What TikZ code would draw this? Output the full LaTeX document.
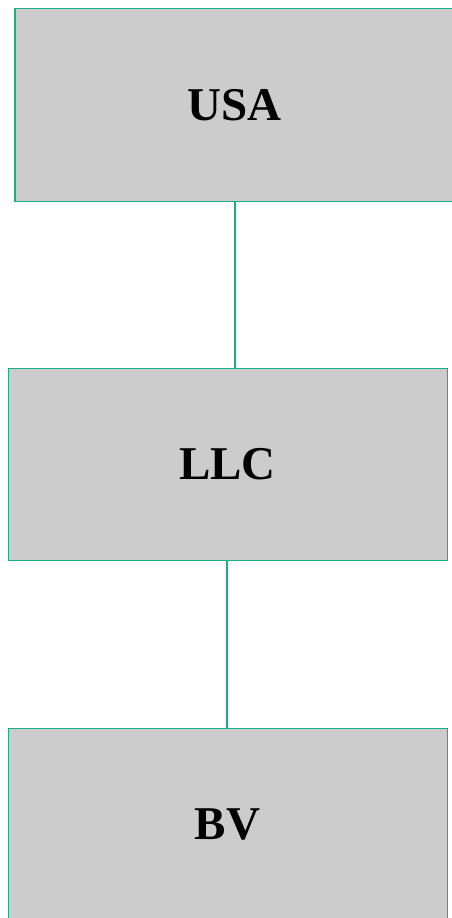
\documentclass[tikz,border=0pt]{standalone}
\usepackage{fontspec}
\setmainfont{Liberation Serif}
\definecolor{edgeteal}{RGB}{26,176,134}
\definecolor{boxgray}{RGB}{204,204,204}
\newcommand{\boxtext}[1]{\raisebox{-2pt}{#1}}
\begin{document}
\begin{tikzpicture}[x=1pt,y=-1pt,
  orgbox/.style={draw=edgeteal,fill=boxgray,text=black,line width=1pt,minimum width=439pt,minimum height=192pt,inner sep=0pt,font=\fontsize{47}{50}\selectfont\bfseries},
  link/.style={draw=edgeteal,line width=1.3pt}]
\useasboundingbox (0,0) rectangle (452,918);
\node[orgbox] (llc) at (227.5,464) {\boxtext{LLC}};
\node[orgbox] (bv) at (227.5,824) {\boxtext{BV}};
\node[orgbox,draw=none,minimum width=438pt] (usa) at (234.5,105) {\boxtext{USA}};
\draw[edgeteal,line width=1.2pt] (usa.north east) -- (usa.north west) -- (usa.south west) -- (usa.south east);
\draw[link] (235,0 |- usa.south) -- (235,0 |- llc.north);
\draw[link] (227,0 |- llc.south) -- (227,0 |- bv.north);
\end{tikzpicture}
\end{document}
